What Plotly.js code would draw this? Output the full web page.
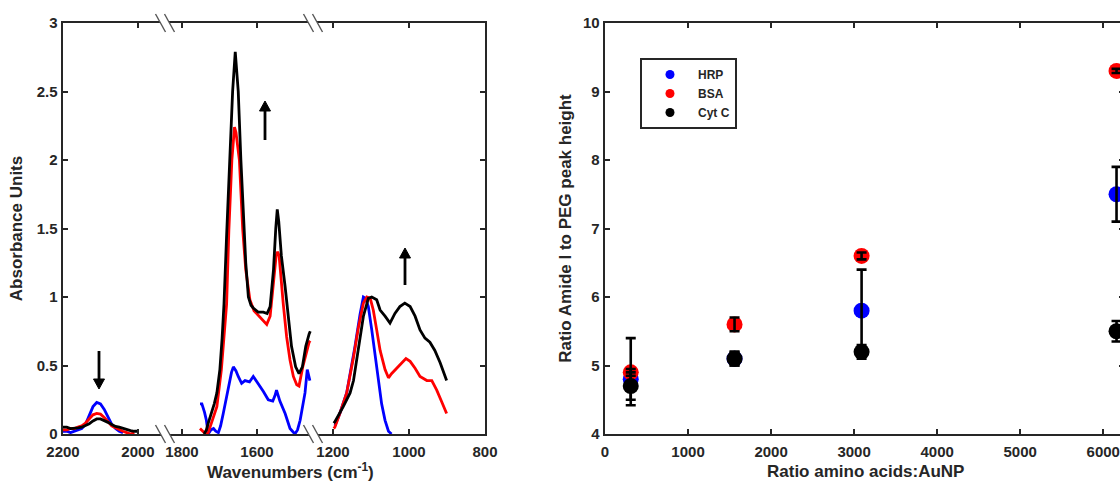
<!DOCTYPE html>
<html>
<head>
<meta charset="utf-8">
<script src="https://cdn.plot.ly/plotly-3.0.1.min.js"></script>
<style>
html, body { margin: 0; padding: 0; background: #fff; overflow: hidden; width: 1120px; height: 484px; }
#chart { width: 1130px; height: 484px; }
</style>
</head>
<body>
<div id="chart"></div>
<script>
// ---------- Left panel: FTIR spectra (three wavenumber windows) ----------
// Window 1 (2200-2000 cm-1)
const hrpWn1 = [2200, 2190, 2180, 2170, 2160, 2150, 2140, 2130, 2120, 2110, 2100, 2090, 2080, 2070, 2060, 2050, 2040];
const hrpAbs1 = [0.02, 0.02, 0.01, 0.02, 0.03, 0.04, 0.07, 0.14, 0.20, 0.23, 0.22, 0.18, 0.12, 0.07, 0.04, 0.02, 0.01];
const bsaWn1 = [2200, 2190, 2180, 2170, 2160, 2150, 2140, 2130, 2120, 2110, 2100, 2090, 2080, 2070, 2060, 2050, 2040, 2030, 2020, 2010];
const bsaAbs1 = [0.03, 0.03, 0.04, 0.04, 0.05, 0.06, 0.08, 0.11, 0.14, 0.15, 0.145, 0.12, 0.09, 0.06, 0.045, 0.03, 0.02, 0.01, 0.0, 0.01];
const cytWn1 = [2200, 2190, 2180, 2170, 2160, 2150, 2140, 2130, 2120, 2110, 2100, 2090, 2080, 2070, 2060, 2050, 2040, 2030, 2020, 2010, 2000];
const cytAbs1 = [0.05, 0.05, 0.04, 0.04, 0.045, 0.05, 0.06, 0.075, 0.095, 0.11, 0.11, 0.10, 0.085, 0.07, 0.055, 0.05, 0.04, 0.03, 0.025, 0.02, 0.02];

// Window 2 (amide region)
const hrpWn2 = [1752, 1747, 1740, 1735, 1730, 1723, 1716, 1710, 1703, 1697, 1690, 1677, 1668, 1663, 1656, 1650, 1641, 1632, 1620, 1610, 1597, 1583, 1570, 1558, 1552, 1548, 1539, 1525, 1512, 1499, 1492, 1485, 1472, 1466, 1459];
const hrpAbs2 = [0.22, 0.22, 0.16, 0.10, 0.0, 0.03, 0.04, 0.02, 0.01, 0.06, 0.15, 0.345, 0.45, 0.49, 0.46, 0.42, 0.37, 0.39, 0.38, 0.42, 0.37, 0.31, 0.25, 0.24, 0.28, 0.32, 0.24, 0.15, 0.04, 0.0, 0.03, 0.10, 0.30, 0.47, 0.39];
const bsaWn2 = [1752, 1745, 1737, 1730, 1725, 1715, 1707, 1695, 1688, 1681, 1675, 1667, 1660, 1656, 1647, 1638, 1630, 1619, 1608, 1597, 1583, 1574, 1565, 1556, 1549, 1545, 1541, 1530, 1521, 1512, 1503, 1494, 1488, 1478, 1468, 1461, 1458];
const bsaAbs2 = [0.04, 0.02, 0.0, 0.01, 0.05, 0.12, 0.20, 0.47, 0.75, 0.95, 1.49, 2.0, 2.24, 2.2, 2.0, 1.49, 1.2, 0.98, 0.90, 0.87, 0.83, 0.80, 0.86, 1.12, 1.30, 1.33, 1.30, 0.95, 0.71, 0.54, 0.42, 0.36, 0.35, 0.49, 0.61, 0.67, 0.68];
const cytWn2 = [1741, 1735, 1730, 1721, 1714, 1707, 1699, 1693, 1688, 1681, 1672, 1665, 1658, 1650, 1643, 1636, 1630, 1623, 1616, 1610, 1597, 1583, 1573, 1565, 1556, 1550, 1546, 1542, 1535, 1525, 1516, 1508, 1497, 1488, 1479, 1470, 1461, 1458];
const cytAbs2 = [0.0, 0.03, 0.08, 0.15, 0.22, 0.30, 0.47, 0.70, 0.95, 1.45, 2.0, 2.5, 2.79, 2.5, 2.0, 1.6, 1.25, 1.0, 0.94, 0.92, 0.89, 0.89, 0.88, 0.93, 1.2, 1.5, 1.64, 1.55, 1.3, 1.075, 0.83, 0.64, 0.49, 0.44, 0.49, 0.64, 0.73, 0.75];

// Window 3 (PEG C-O-C region)
const hrpWn3 = [1195, 1182, 1164, 1151, 1142, 1129, 1120, 1114, 1107, 1098, 1089, 1081, 1072, 1063, 1054, 1046];
const hrpAbs3 = [0.06, 0.15, 0.30, 0.49, 0.64, 0.87, 1.0, 0.99, 0.93, 0.76, 0.56, 0.39, 0.22, 0.10, 0.02, 0.0];
const bsaWn3 = [1198, 1195, 1182, 1164, 1146, 1133, 1120, 1111, 1102, 1094, 1085, 1076, 1063, 1054, 1046, 1032, 1019, 1008, 997, 984, 971, 953, 940, 927, 914, 901];
const bsaAbs3 = [0.04, 0.05, 0.15, 0.30, 0.56, 0.78, 0.955, 1.0, 0.99, 0.905, 0.76, 0.61, 0.47, 0.41, 0.44, 0.48, 0.52, 0.55, 0.53, 0.48, 0.42, 0.39, 0.39, 0.32, 0.235, 0.15];
const cytWn3 = [1198, 1195, 1173, 1155, 1146, 1138, 1129, 1120, 1107, 1098, 1085, 1076, 1063, 1050, 1037, 1024, 1011, 997, 984, 971, 958, 945, 932, 918, 901];
const cytAbs3 = [0.08, 0.09, 0.20, 0.30, 0.39, 0.54, 0.71, 0.86, 0.99, 1.0, 0.98, 0.905, 0.86, 0.81, 0.88, 0.93, 0.955, 0.93, 0.86, 0.76, 0.70, 0.67, 0.61, 0.52, 0.39];

// ---------- Right panel: ratio of Amide I to PEG peak height ----------
const ratioAA = [310, 1560, 3090, 6160];
const hrpRatio = [4.8, 5.1, 5.8, 7.5];
const hrpErrPlus = [0.6, 0.1, 0.6, 0.4];
const hrpErrMinus = [0.38, 0.1, 0.6, 0.4];
const bsaRatio = [4.9, 5.6, 6.6, 9.3];
const bsaErr = [0.05, 0.1, 0.05, 0.03];
const cytRatio = [4.7, 5.1, 5.2, 5.5];
const cytErr = [0.2, 0.1, 0.1, 0.15];

const seriesNames = ['HRP', 'BSA', 'Cyt C'];
const seriesColors = ['#0000ff', '#ff0000', '#000000'];

// ---------- geometry helpers (layout only) ----------
const W = 1130, H = 484;
const fx = p => p / W;
const fy = p => 1 - p / H;
const FONT = 'Liberation Sans, Arial, Helvetica, sans-serif';
const INK = '#262626';
const tickFont = {family: FONT, size: 15, color: INK, weight: 700};
const titleFont = {family: FONT, size: 17, color: INK, weight: 700};

const traces = [];
function spec(wn, ab, color, xa, ya) {
  traces.push({x: wn, y: ab, xaxis: xa, yaxis: ya, type: 'scatter', mode: 'lines',
    line: {color: color, width: 2.8}, showlegend: false, hoverinfo: 'skip'});
}
spec(hrpWn1, hrpAbs1, seriesColors[0], 'x', 'y');
spec(bsaWn1, bsaAbs1, seriesColors[1], 'x', 'y');
spec(cytWn1, cytAbs1, seriesColors[2], 'x', 'y');
spec(hrpWn2, hrpAbs2, seriesColors[0], 'x2', 'y');
spec(bsaWn2, bsaAbs2, seriesColors[1], 'x2', 'y');
spec(cytWn2, cytAbs2, seriesColors[2], 'x2', 'y');
spec(hrpWn3, hrpAbs3, seriesColors[0], 'x3', 'y');
spec(bsaWn3, bsaAbs3, seriesColors[1], 'x3', 'y');
spec(cytWn3, cytAbs3, seriesColors[2], 'x3', 'y2');

// right panel markers
const ratioVals = [hrpRatio, bsaRatio, cytRatio];
const errPlus = [hrpErrPlus, bsaErr, cytErr];
const errMinus = [hrpErrMinus, bsaErr, cytErr];
for (let i = 0; i < 3; i++) {
  traces.push({x: ratioAA, y: ratioVals[i], xaxis: 'x4', yaxis: 'y3', type: 'scatter', mode: 'markers',
    marker: {color: seriesColors[i], size: 16}, showlegend: false, cliponaxis: false, name: seriesNames[i]});
}
for (let i = 0; i < 3; i++) {
  traces.push({x: ratioAA, y: ratioVals[i], xaxis: 'x4', yaxis: 'y3', type: 'scatter', mode: 'markers',
    marker: {color: seriesColors[i], size: 2, opacity: 0}, showlegend: false, cliponaxis: false,
    error_y: {type: 'data', symmetric: false, array: errPlus[i], arrayminus: errMinus[i],
      color: '#000', thickness: 2.6, width: 5}});
}
// legend entries
for (let i = 0; i < 3; i++) {
  traces.push({x: [null], y: [null], xaxis: 'x4', yaxis: 'y3', type: 'scatter', mode: 'markers',
    marker: {color: seriesColors[i], size: 9}, name: seriesNames[i], showlegend: true});
}

const axCommon = {showline: true, linecolor: INK, linewidth: 2.4, ticks: 'inside', ticklen: 5,
  tickwidth: 2, tickcolor: INK, showgrid: false, zeroline: false, tickfont: tickFont, fixedrange: true};

const yDom = [fy(434), fy(23)];
const layout = {
  width: W, height: H,
  margin: {l: 0, r: 0, t: 0, b: 0},
  paper_bgcolor: '#fff', plot_bgcolor: 'rgba(0,0,0,0)',
  showlegend: true,
  xaxis: Object.assign({}, axCommon, {domain: [fx(63), fx(165)], range: [2200, 1928], anchor: 'y',
    tickmode: 'array', tickvals: [2200, 2000], mirror: 'ticks', ticklabelstandoff: 3}),
  xaxis2: Object.assign({}, axCommon, {domain: [fx(165), fx(313)], range: [1845.3, 1450.7], anchor: 'y',
    tickmode: 'array', tickvals: [1800, 1600], mirror: 'ticks', ticklabelstandoff: 3}),
  xaxis3: Object.assign({}, axCommon, {domain: [fx(313), fx(485)], range: [1252.6, 800], anchor: 'y',
    tickmode: 'array', tickvals: [1200, 1000, 800], mirror: 'ticks', ticklabelstandoff: 3}),
  yaxis: Object.assign({}, axCommon, {domain: yDom, range: [0, 3], dtick: 0.5, anchor: 'x',
    title: {text: 'Absorbance Units', font: titleFont, standoff: 10}}),
  yaxis2: Object.assign({}, axCommon, {range: [0, 3], dtick: 0.5, overlaying: 'y', side: 'right',
    anchor: 'x3', showticklabels: false}),
  xaxis4: Object.assign({}, axCommon, {domain: [fx(605), fx(1124)], range: [0, 6250], dtick: 1000,
    anchor: 'y3', mirror: 'ticks', ticklabelstandoff: 3}),
  yaxis3: Object.assign({}, axCommon, {domain: yDom, range: [4, 10], dtick: 1, anchor: 'x4',
    mirror: 'ticks', title: {text: 'Ratio Amide I to PEG peak height', font: titleFont, standoff: 7}}),
  legend: {x: fx(640), y: fy(58), xanchor: 'left', yanchor: 'top', bgcolor: '#fff',
    bordercolor: INK, borderwidth: 2, itemwidth: 46, tracegroupgap: 0,
    font: {family: FONT, size: 12, color: INK, weight: 700}},
  annotations: [
    {xref: 'paper', yref: 'paper', x: fx(290), y: fy(471), xanchor: 'center', yanchor: 'middle',
     text: 'Wavenumbers (cm<sup>-1</sup>)', showarrow: false, font: titleFont},
    {xref: 'paper', yref: 'paper', x: fx(866), y: fy(471), xanchor: 'center', yanchor: 'middle',
     text: 'Ratio amino acids:AuNP', showarrow: false, font: titleFont}
  ],
  shapes: []
};

// axis-break marks
function brk(xc, yc) {
  const d = 4.5;
  layout.shapes.push({type: 'path', xref: 'paper', yref: 'paper', layer: 'above',
    path: `M ${fx(xc - d - 4)} ${fy(yc - 8)} L ${fx(xc + d - 4)} ${fy(yc - 8)} L ${fx(xc + d + 4)} ${fy(yc + 8)} L ${fx(xc - d + 4)} ${fy(yc + 8)} Z`,
    fillcolor: '#fff', line: {width: 0}});
  [-d, d].forEach(o => layout.shapes.push({type: 'line', xref: 'paper', yref: 'paper', layer: 'above',
    x0: fx(xc + o - 5), y0: fy(yc - 9), x1: fx(xc + o + 5), y1: fy(yc + 9),
    line: {color: '#555', width: 1.4}}));
}
brk(165, 23); brk(165, 434); brk(313, 23); brk(313, 434);

// trend arrows (tail pixel y, tip pixel y, pixel x)
function arrow(xp, tail, tip) {
  const dir = tip > tail ? 1 : -1;
  const base = tip - dir * 10;
  layout.shapes.push({type: 'line', xref: 'paper', yref: 'paper', layer: 'above',
    x0: fx(xp), y0: fy(tail), x1: fx(xp), y1: fy(base), line: {color: '#000', width: 2.8}});
  layout.shapes.push({type: 'path', xref: 'paper', yref: 'paper', layer: 'above',
    path: `M ${fx(xp - 5.5)} ${fy(base)} L ${fx(xp + 5.5)} ${fy(base)} L ${fx(xp)} ${fy(tip)} Z`,
    fillcolor: '#000', line: {color: '#000', width: 1}});
}
arrow(99, 351, 389);
arrow(265, 140, 101);
arrow(405, 285, 248);

Plotly.newPlot('chart', traces, layout, {displayModeBar: false, staticPlot: true});
</script>
</body>
</html>
